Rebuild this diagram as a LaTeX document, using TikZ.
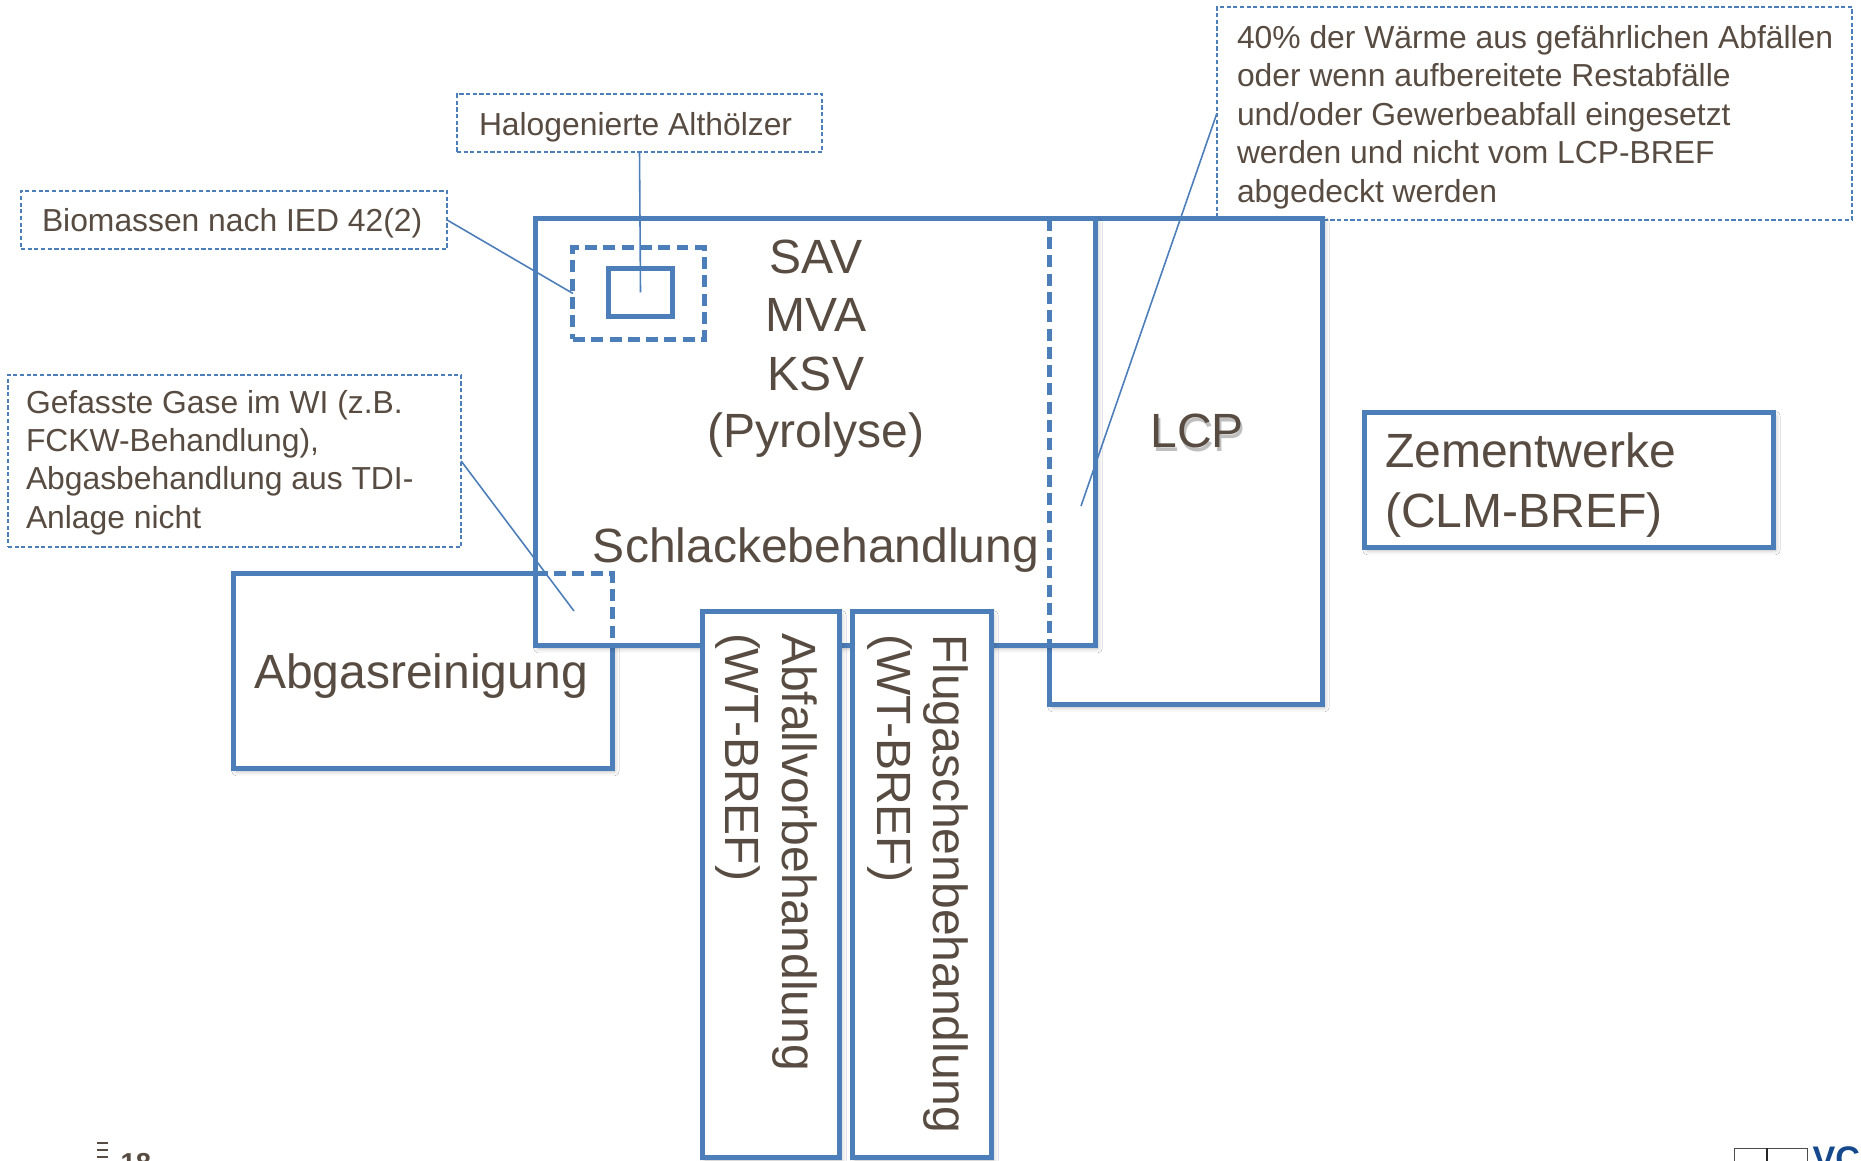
\documentclass[tikz,border=0pt]{standalone}
\usepackage{fontspec}
\setmainfont{Liberation Sans}
\usetikzlibrary{shadows.blur}
\definecolor{myblue}{RGB}{76,126,186}
\definecolor{txt}{RGB}{88,76,66}
\definecolor{vciblue}{RGB}{22,72,140}
\newcommand\mkbox[6]{\node[#2,minimum width={(#5-#3)*0.1mm},minimum height={(#6-#4)*0.1mm}] (#1) at ({(#3+#5)/2},{(#4+#6)/2}) {};}
\begin{document}
\begin{tikzpicture}[x=0.01cm,y=-0.01cm,
  bx/.style={rectangle,draw=myblue,line width=1.42pt,fill=white,inner sep=0pt,outer sep=0pt,
    blur shadow={shadow xshift=0.7pt,shadow yshift=-0.9pt,shadow blur radius=1.3pt,shadow opacity=30}},
  bxplain/.style={rectangle,draw=myblue,line width=1.42pt,inner sep=0pt,outer sep=0pt},
  dbx/.style={rectangle,draw=myblue,line width=1.42pt,dash pattern=on 3.4pt off 1.8pt,inner sep=0pt,outer sep=0pt},
  dline/.style={draw=myblue,line width=1.42pt,dash pattern=on 3.4pt off 1.8pt},
  callout/.style={rectangle,draw=myblue,line width=0.42pt,dash pattern=on 1.2pt off 0.7pt,inner sep=0pt,outer sep=0pt},
  conn/.style={draw=myblue,line width=0.45pt},
  big/.style={font=\fontsize{13.66pt}{16.4pt}\selectfont,text=txt,inner sep=0pt,outer sep=0pt},
  small/.style={font=\fontsize{9.05pt}{10.9pt}\selectfont,text=txt,inner sep=0pt,outer sep=0pt}]
\useasboundingbox (0,0) rectangle (1861,1161);
\fill[white] (0,0) rectangle (1861,1161);

% callout boxes
\mkbox{halo}{callout}{457}{94}{822}{152}
\mkbox{bio}{callout}{21}{191}{447}{249}
\mkbox{gef}{callout}{8}{375}{461}{547}
\mkbox{forty}{callout}{1217}{7}{1852}{220}

\node[small,anchor=base west] (halot) at (479,136) {Halogenierte Althölzer};
\node[small,anchor=base west] (biot) at (42,232) {Biomassen nach IED 42(2)};
\node[small,anchor=base west] (gef1) at (26,413) {Gefasste Gase im WI (z.B.};
\node[small,anchor=base west] (gef2) at (26,451.4) {FCKW-Behandlung),};
\node[small,anchor=base west] (gef3) at (26,489.8) {Abgasbehandlung aus TDI-};
\node[small,anchor=base west] (gef4) at (26,528.2) {Anlage nicht};
\node[small,anchor=base west] (f1) at (1237,48.5) {40\% der Wärme aus gefährlichen Abfällen};
\node[small,anchor=base west] (f2) at (1237,86.9) {oder wenn aufbereitete Restabfälle};
\node[small,anchor=base west] (f3) at (1237,125.3) {und/oder Gewerbeabfall eingesetzt};
\node[small,anchor=base west] (f4) at (1237,163.7) {werden und nicht vom LCP-BREF};
\node[small,anchor=base west] (f5) at (1237,202.1) {abgedeckt werden};

% boxes behind the main box
\mkbox{lcp}{bx}{1050}{219}{1322}{704}
\mkbox{abg}{bx}{234}{574}{612}{768}
\mkbox{zem}{bx}{1365}{413}{1773}{547}
% main box
\mkbox{main}{bx}{536}{219}{1095}{645}
% dashed parts inside the main box
\draw[dline] (lcp.north west) -- (lcp.west |- main.south);
\draw[dline] (main.west |- abg.north) -- (abg.north east) -- (abg.east |- main.south);
% inner boxes
\mkbox{inner}{dbx}{573}{248}{704}{339}
\mkbox{small}{bxplain}{609}{269}{672}{316}
% rotated boxes
\mkbox{abf}{bx}{703}{612}{839}{1157}
\mkbox{flug}{bx}{853}{612}{991}{1157}

% texts
\node[big,anchor=base] (sav) at (816,274) {SAV};
\node[big,anchor=base] (mva) at (816,332) {MVA};
\node[big,anchor=base] (ksv) at (816,390) {KSV};
\node[big,anchor=base] (pyr) at (816,447) {(Pyrolyse)};
\node[big,anchor=base] (schl) at (816,562) {Schlackebehandlung};
\node[big,anchor=base,text=black!45,opacity=0.55] (lcpsh) at (1199,452) {LCP};
\node[big,anchor=base] (lcpt) at (1197,448) {LCP};
\node[big,anchor=base west] (zem1) at (1385,468) {Zementwerke};
\node[big,anchor=base west] (zem2) at (1385,527) {(CLM-BREF)};
\node[big,anchor=base west] (abgt) at (254,688) {Abgasreinigung};
\node[big,anchor=base west,rotate=-90] (abf1) at (782,633) {Abfallvorbehandlung};
\node[big,anchor=base west,rotate=-90] (abf2) at (725,633) {(WT-BREF)};
\node[big,anchor=base west,rotate=-90] (flug1) at (933,634) {Flugaschenbehandlung};
\node[big,anchor=base west,rotate=-90] (flug2) at (877,634) {(WT-BREF)};

% connectors
\coordinate (gefend) at (574,611);
\coordinate (fortyend) at (1081,506);
\draw[conn] (halo.south) -- (small.center);
\draw[conn] (bio.east) -- (inner.west);
\draw[conn] (gef.east) -- (gefend);
\draw[conn] (forty.west) -- (fortyend);

% footer: page number and logo (cut by the page edge, as in the reference)
\foreach \yy [count=\i] in {1143,1150,1157}{\draw[txt,line width=0.55pt] (97,\yy) -- (108,\yy);}
\node[anchor=base west,inner sep=0pt,text=txt,font=\bfseries\fontsize{7.8pt}{9pt}\selectfont] (pnum) at (120,1172) {18};
\node[rectangle,draw=black!70,line width=0.4pt,minimum width=7.3mm,minimum height=3mm,inner sep=0pt,anchor=north west] (logo) at (1734,1148) {};
\draw[black!85,line width=0.6pt] (logo.north) ++(-4,0) -- ++(0,40);
\node[anchor=base west,inner sep=0pt,text=vciblue,font=\bfseries\fontsize{9.7pt}{11pt}\selectfont] (vci) at (1812,1170) {VCI};
\end{tikzpicture}
\end{document}
